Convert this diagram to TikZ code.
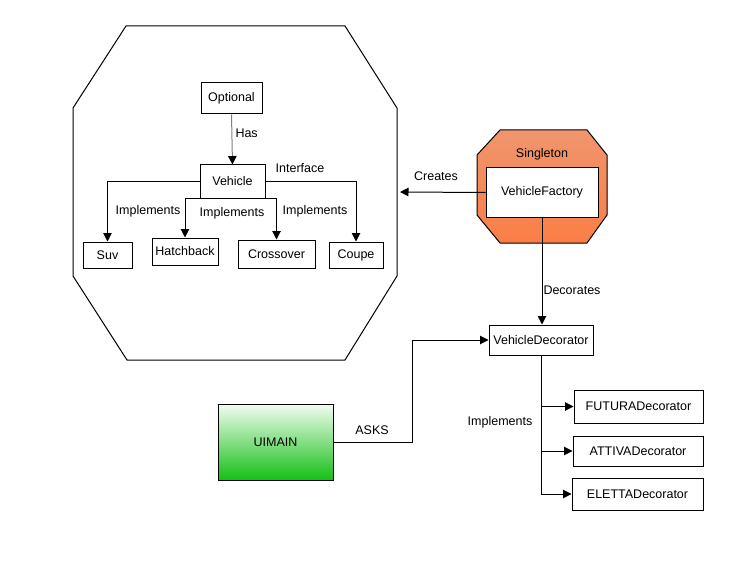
\documentclass[tikz,border=0pt]{standalone}
\usepackage{fontspec}
\setmainfont{Liberation Sans}
\usetikzlibrary{arrows.meta}
\definecolor{singletontop}{HTML}{F0956E}
\definecolor{singletonbot}{HTML}{FA7E45}
\definecolor{uitop}{HTML}{F2FCF2}
\definecolor{uibot}{HTML}{14C014}

\begin{document}
\begin{tikzpicture}[x=1pt, y=-1pt, line width=1pt,
    every node/.style={font=\fontsize{12.5}{14}\selectfont, inner sep=0pt},
    box/.style={draw, fill=white},
    arr/.style={-{Triangle[length=8.5pt, width=8.5pt]}}]
    \useasboundingbox (0,0) rectangle (746,564);
    %the octagons
    \draw (126,26) -- (345,26) -- (397,108) -- (397,276) -- (345,360) -- (127,360) -- (73,276) -- (73,108) -- cycle;
    \coordinate (bigoct-e) at (400,192);
    \shadedraw[top color=singletontop, bottom color=singletonbot] (500,130) -- (587,130) -- (607,155) -- (607,215) -- (587,243) -- (500,243) -- (477,215) -- (477,155) -- cycle;
    %the boxes
    \node[box, minimum width=61, minimum height=31] (optional) at (231.5,98.5) {Optional};
    \node[box, minimum width=65, minimum height=33] (vehicle) at (232.5,181.5) {Vehicle};
    \node[box, minimum width=49, minimum height=26] (suv) at (107.5,255) {Suv};
    \node[box, minimum width=66, minimum height=27] (hatchback) at (185,251.5) {Hatchback};
    \node[box, minimum width=77, minimum height=28] (crossover) at (276.5,254) {Crossover};
    \node[box, minimum width=54, minimum height=26] (coupe) at (356,255) {Coupe};
    \node[box, minimum width=112, minimum height=49] (factory) at (542,192.5) {VehicleFactory};
    \node[box, minimum width=104, minimum height=30] (deco) at (541,340) {VehicleDecorator};
    \node[box, minimum width=129, minimum height=33] (futura) at (638.5,406.5) {FUTURADecorator};
    \node[box, minimum width=130, minimum height=30] (attiva) at (638,451) {ATTIVADecorator};
    \node[box, minimum width=131, minimum height=32] (eletta) at (637.5,494) {ELETTADecorator};
    \node[draw, top color=uitop, bottom color=uibot, minimum width=115, minimum height=76] (uimain) at (275.5,442) {UIMAIN};
    %the lines
    \draw[gray, -{Triangle[length=8.5pt, width=8.5pt, color=black]}] (optional.south) -- (vehicle.north);
    \draw[arr] (vehicle.west) -| (suv.north);
    \draw[arr] (vehicle.south) -| (hatchback.north);
    \draw[arr] (vehicle.south) -| (crossover.north);
    \draw[arr] (vehicle.east) -| (coupe.north);
    \draw[arr] (factory.west) -- (bigoct-e);
    \draw[arr] (factory.south) -- (factory.south |- deco.north);
    \draw[arr] (uimain.east) -- ++(79,0) |- (deco.west);
    \draw[arr] (deco.south) |- (futura.west);
    \draw[arr] (deco.south) |- (attiva.west);
    \draw[arr] (deco.south) |- (eletta.west);
    %the legends
    \node[anchor=west] (has) at (235,133) {Has};
    \node (interface) at (300,168) {Interface};
    \node (impl-suv) at (148,211) {Implements};
    \node (impl-mid) at (232,213) {Implements};
    \node (impl-coupe) at (315,211) {Implements};
    \node (singleton) at (542,154) {Singleton};
    \node (creates) at (436,176) {Creates};
    \node (decorates) at (572,290) {Decorates};
    \node (asks) at (372,430) {ASKS};
    \node (impl-deco) at (500,422) {Implements};
\end{tikzpicture}
\end{document}
